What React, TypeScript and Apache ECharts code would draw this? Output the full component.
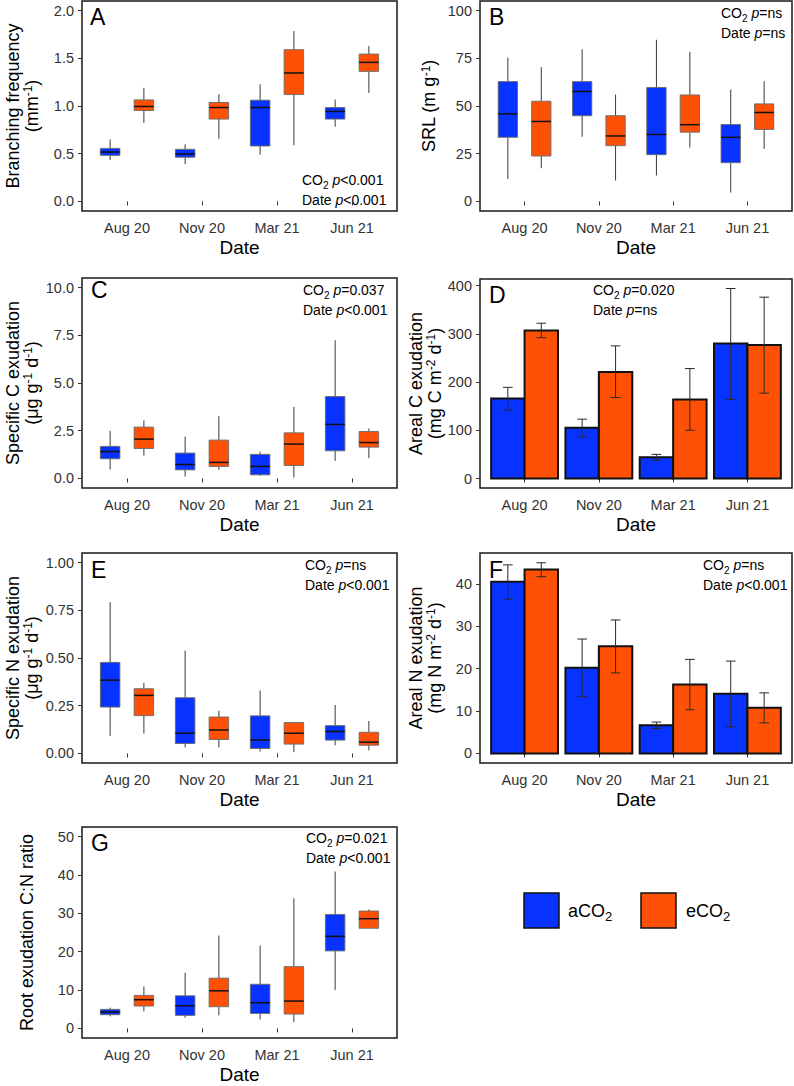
import React, { useEffect, useRef } from "react";
import * as echarts from "echarts";

// ---------- data ----------
const dates = ["Aug 20", "Nov 20", "Mar 21", "Jun 21"];

// box stats: [lower whisker, Q1, median, Q3, upper whisker]
const branchingAmbient = [
  [0.435, 0.483, 0.518, 0.556, 0.65],
  [0.39, 0.463, 0.497, 0.546, 0.598],
  [0.49, 0.581, 0.984, 1.061, 1.228],
  [0.783, 0.863, 0.943, 0.984, 1.068],
];
const branchingElevated = [
  [0.824, 0.953, 0.995, 1.064, 1.19],
  [0.657, 0.863, 0.984, 1.037, 1.123],
  [0.588, 1.12, 1.346, 1.59, 1.784],
  [1.137, 1.363, 1.457, 1.544, 1.628],
];

const srlAmbient = [
  [11.8, 33.6, 45.9, 62.8, 75.3],
  [33.9, 44.9, 57.6, 62.8, 79.7],
  [13.6, 24.5, 35.1, 59.7, 84.7],
  [4.7, 20.3, 33.6, 40.3, 58.6],
];
const srlElevated = [
  [17.4, 23.8, 41.9, 52.5, 70.4],
  [11.0, 29.2, 34.3, 44.9, 56.0],
  [28.2, 36.3, 40.2, 55.8, 78.4],
  [27.5, 37.7, 46.6, 51.1, 63.0],
];

const specCAmbient = [
  [0.47, 1.03, 1.41, 1.68, 2.5],
  [0.1, 0.45, 0.73, 1.33, 2.2],
  [0.14, 0.19, 0.63, 1.26, 1.41],
  [0.92, 1.45, 2.83, 4.29, 7.24],
];
const specCElevated = [
  [1.19, 1.57, 2.06, 2.69, 3.04],
  [0.45, 0.63, 0.84, 2.01, 3.26],
  [0.05, 0.68, 1.8, 2.39, 3.75],
  [1.06, 1.64, 1.88, 2.46, 2.62],
];

// bars: mean, lower error, upper error
const arealCAmbientMean = [166, 105, 44, 280];
const arealCAmbientLow = [142, 86, 38, 164];
const arealCAmbientHigh = [189, 123, 50, 394];
const arealCElevatedMean = [307, 221, 164, 277];
const arealCElevatedLow = [292, 168, 100, 177];
const arealCElevatedHigh = [322, 275, 228, 376];

const specNAmbient = [
  [0.092, 0.243, 0.384, 0.477, 0.793],
  [0.031, 0.052, 0.106, 0.292, 0.539],
  [0.01, 0.026, 0.071, 0.197, 0.33],
  [0.043, 0.07, 0.115, 0.146, 0.254],
];
const specNElevated = [
  [0.104, 0.198, 0.304, 0.339, 0.37],
  [0.031, 0.073, 0.123, 0.191, 0.224],
  [0.007, 0.049, 0.106, 0.162, 0.162],
  [0.016, 0.043, 0.059, 0.111, 0.17],
];

const arealNAmbientMean = [40.5, 20.2, 6.65, 14.1];
const arealNAmbientLow = [36.4, 13.4, 5.9, 6.3];
const arealNAmbientHigh = [44.5, 27.0, 7.4, 21.8];
const arealNElevatedMean = [43.4, 25.3, 16.3, 10.8];
const arealNElevatedLow = [41.7, 19.0, 10.3, 7.2];
const arealNElevatedHigh = [45.0, 31.5, 22.2, 14.3];

const cnAmbient = [
  [3.13, 3.57, 4.26, 4.96, 5.4],
  [2.8, 3.4, 5.9, 8.5, 14.5],
  [2.35, 3.9, 6.7, 11.5, 21.6],
  [10, 20.2, 24, 29.7, 40.9],
];
const cnElevated = [
  [4.43, 5.83, 7.48, 8.6, 10.96],
  [3.4, 5.65, 9.8, 13.1, 24.2],
  [1.65, 3.74, 7.13, 16.1, 33.9],
  [26.1, 26.1, 28.6, 30.6, 31.0],
];

// tick labels
const ticksA = [0, 0.5, 1, 1.5, 2];
const ticksB = [0, 25, 50, 75, 100];
const ticksC = [0, 2.5, 5, 7.5, 10];
const ticksD = [0, 100, 200, 300, 400];
const ticksE = [0, 0.25, 0.5, 0.75, 1];
const ticksF = [0, 10, 20, 30, 40];
const ticksG = [0, 10, 20, 30, 40, 50];

// ---------- style ----------
const BLUE = "#0832ff";
const ORANGE = "#ff5106";
const FONT = "'Liberation Sans', Arial, Helvetica, sans-serif";

type PanelKind = "box" | "bar";
interface Panel {
  letter: string;
  kind: PanelKind;
  left: number;
  top: number;
  width: number;
  height: number;
  yMin: number;
  yMax: number;
  ticks: number[];
  decimals: number;
  title: string;
  titleX: number;
  letterXY: [number, number];
  noteX: number;
  noteY: number;
  note: string;
  amb?: number[][];
  elev?: number[][];
  barAmb?: number[][];
  barElev?: number[][];
}

const sup = (s: string) => `{s|${s}}`;
const nrm = (s: string) => `{n|${s}}`;

const note = (co2: string, date: string) =>
  `{n|CO}{b|2}{n| }{i|p}{n|${co2}}\n{n|Date }{i|p}{n|${date}}`;

const zipBars = (m: number[], lo: number[], hi: number[]) =>
  m.map((v, i) => [v, lo[i], hi[i]]);

const panels: Panel[] = [
  {
    letter: "A", kind: "box", left: 82, top: 1, width: 315, height: 210,
    yMin: -0.1, yMax: 2.1, ticks: ticksA, decimals: 1,
    title: nrm("Branching frequency") + "\n" + nrm("(mm") + sup("-1") + nrm(")"),
    titleX: 22, letterXY: [90, 17], noteX: 302, noteY: 190,
    note: note("<0.001", "<0.001"),
    amb: branchingAmbient, elev: branchingElevated,
  },
  {
    letter: "B", kind: "box", left: 480, top: 1, width: 312, height: 210,
    yMin: -5, yMax: 105, ticks: ticksB, decimals: 0,
    title: nrm("SRL (m g") + sup("-1") + nrm(")"),
    titleX: 429, letterXY: [489, 17], noteX: 721, noteY: 23,
    note: note("=ns", "=ns"),
    amb: srlAmbient, elev: srlElevated,
  },
  {
    letter: "C", kind: "box", left: 82, top: 278, width: 315, height: 210,
    yMin: -0.5, yMax: 10.5, ticks: ticksC, decimals: 1,
    title: nrm("Specific C exudation") + "\n" + nrm("(μg g") + sup("-1") + nrm(" d") + sup("-1") + nrm(")"),
    titleX: 22, letterXY: [91, 290], noteX: 303, noteY: 300,
    note: note("=0.037", "<0.001"),
    amb: specCAmbient, elev: specCElevated,
  },
  {
    letter: "D", kind: "bar", left: 480, top: 279, width: 312, height: 209,
    yMin: -19.7, yMax: 413.7, ticks: ticksD, decimals: 0,
    title: nrm("Areal C exudation") + "\n" + nrm("(mg C m") + sup("-2") + nrm(" d") + sup("-1") + nrm(")"),
    titleX: 425, letterXY: [489, 295], noteX: 593, noteY: 300,
    note: note("=0.020", "=ns"),
    barAmb: zipBars(arealCAmbientMean, arealCAmbientLow, arealCAmbientHigh),
    barElev: zipBars(arealCElevatedMean, arealCElevatedLow, arealCElevatedHigh),
  },
  {
    letter: "E", kind: "box", left: 82, top: 553, width: 315, height: 210,
    yMin: -0.05, yMax: 1.05, ticks: ticksE, decimals: 2,
    title: nrm("Specific N exudation") + "\n" + nrm("(μg g") + sup("-1") + nrm(" d") + sup("-1") + nrm(")"),
    titleX: 22, letterXY: [91, 570], noteX: 305, noteY: 575,
    note: note("=ns", "<0.001"),
    amb: specNAmbient, elev: specNElevated,
  },
  {
    letter: "F", kind: "bar", left: 480, top: 553, width: 312, height: 210,
    yMin: -2.25, yMax: 47.3, ticks: ticksF, decimals: 0,
    title: nrm("Areal N exudation") + "\n" + nrm("(mg N m") + sup("-2") + nrm(" d") + sup("-1") + nrm(")"),
    titleX: 425, letterXY: [489, 570], noteX: 703, noteY: 575,
    note: note("=ns", "<0.001"),
    barAmb: zipBars(arealNAmbientMean, arealNAmbientLow, arealNAmbientHigh),
    barElev: zipBars(arealNElevatedMean, arealNElevatedLow, arealNElevatedHigh),
  },
  {
    letter: "G", kind: "box", left: 82, top: 827, width: 315, height: 211,
    yMin: -2.5, yMax: 52.5, ticks: ticksG, decimals: 0,
    title: nrm("Root exudation C:N ratio"),
    titleX: 27, letterXY: [91, 843], noteX: 306, noteY: 848,
    note: note("=0.021", "<0.001"),
    amb: cnAmbient, elev: cnElevated,
  },
];

const BOX_OFFSET = 0.225;
const BOX_WIDTH = 0.26;
const BAR_WIDTH = 0.45;
const CAP_WIDTH = 0.13;

function boxRenderer(offset: number, color: string) {
  return (params: any, api: any) => {
    const x = api.value(0) + offset;
    const lo = api.coord([x, api.value(1)]);
    const q1 = api.coord([x, api.value(2)]);
    const md = api.coord([x, api.value(3)]);
    const q3 = api.coord([x, api.value(4)]);
    const hi = api.coord([x, api.value(5)]);
    const w = api.size([BOX_WIDTH, 0])[0];
    const cx = md[0];
    const wl = { stroke: "#3a3a3a", lineWidth: 1 };
    return {
      type: "group",
      children: [
        { type: "line", shape: { x1: cx, y1: hi[1], x2: cx, y2: q3[1] }, style: wl },
        { type: "line", shape: { x1: cx, y1: q1[1], x2: cx, y2: lo[1] }, style: wl },
        {
          type: "rect",
          shape: { x: cx - w / 2, y: q3[1], width: w, height: Math.max(q1[1] - q3[1], 0.5) },
          style: { fill: color, stroke: "#6a6a6a", lineWidth: 0.9 },
        },
        {
          type: "line",
          shape: { x1: cx - w / 2, y1: md[1], x2: cx + w / 2, y2: md[1] },
          style: { stroke: "#111", lineWidth: 1.5 },
        },
      ],
    };
  };
}

function barRenderer(offset: number, color: string) {
  return (params: any, api: any) => {
    const x = api.value(0) + offset;
    const base = api.coord([x, 0]);
    const top = api.coord([x, api.value(1)]);
    const lo = api.coord([x, api.value(2)]);
    const hi = api.coord([x, api.value(3)]);
    const w = api.size([BAR_WIDTH, 0])[0];
    const cw = api.size([CAP_WIDTH, 0])[0];
    const cx = top[0];
    const el = { stroke: "#2a2a2a", lineWidth: 1 };
    return {
      type: "group",
      children: [
        {
          type: "rect",
          shape: { x: cx - w / 2, y: top[1], width: w, height: base[1] - top[1] },
          style: { fill: color, stroke: "#111", lineWidth: 2 },
        },
        { type: "line", shape: { x1: cx, y1: hi[1], x2: cx, y2: lo[1] }, style: el },
        { type: "line", shape: { x1: cx - cw / 2, y1: hi[1], x2: cx + cw / 2, y2: hi[1] }, style: el },
        { type: "line", shape: { x1: cx - cw / 2, y1: lo[1], x2: cx + cw / 2, y2: lo[1] }, style: el },
      ],
    };
  };
}

function buildOption() {
  const grid: any[] = [];
  const xAxis: any[] = [];
  const yAxis: any[] = [];
  const series: any[] = [];
  const graphic: any[] = [];

  panels.forEach((p, i) => {
    grid.push({
      left: p.left, top: p.top, width: p.width, height: p.height,
      show: true, borderColor: "#1a1a1a", borderWidth: 1.5, backgroundColor: "transparent",
    });
    xAxis.push({
      gridIndex: i, type: "value", min: 0.4, max: 4.6,
      name: "Date", nameLocation: "middle", nameGap: 27,
      nameTextStyle: { fontSize: 19, color: "#000", fontFamily: FONT },
      axisLine: { show: false },
      axisTick: { show: true, length: 4, lineStyle: { color: "#333", width: 1 }, customValues: [1, 2, 3, 4] },
      axisLabel: {
        customValues: [1, 2, 3, 4],
        formatter: (v: number) => dates[Math.round(v) - 1] ?? "",
        fontSize: 14.5, color: "#333", margin: 9, fontFamily: FONT,
      },
      splitLine: { show: false },
    });
    yAxis.push({
      gridIndex: i, type: "value", min: p.yMin, max: p.yMax,
      axisLine: { show: false },
      axisTick: { show: true, length: 4, lineStyle: { color: "#333", width: 1 }, customValues: p.ticks },
      axisLabel: {
        customValues: p.ticks,
        formatter: (v: number) => v.toFixed(p.decimals),
        fontSize: 14.5, color: "#333", margin: 8, fontFamily: FONT,
      },
      splitLine: { show: false },
    });

    if (p.kind === "box") {
      const ambData = (p.amb || []).map((b, k) => [k + 1, ...b]);
      const elevData = (p.elev || []).map((b, k) => [k + 1, ...b]);
      series.push({
        type: "custom", name: "aCO2", xAxisIndex: i, yAxisIndex: i,
        renderItem: boxRenderer(-BOX_OFFSET, BLUE), data: ambData,
        encode: { x: 0, y: [1, 2, 3, 4, 5] },
      });
      series.push({
        type: "custom", name: "eCO2", xAxisIndex: i, yAxisIndex: i,
        renderItem: boxRenderer(BOX_OFFSET, ORANGE), data: elevData,
        encode: { x: 0, y: [1, 2, 3] },
      });
    } else {
      const ambData = (p.barAmb || []).map((b, k) => [k + 1, ...b]);
      const elevData = (p.barElev || []).map((b, k) => [k + 1, ...b]);
      series.push({
        type: "custom", name: "aCO2", xAxisIndex: i, yAxisIndex: i,
        renderItem: barRenderer(-BAR_WIDTH / 2, BLUE), data: ambData,
        encode: { x: 0, y: [1, 2, 3] },
      });
      series.push({
        type: "custom", name: "eCO2", xAxisIndex: i, yAxisIndex: i,
        renderItem: barRenderer(BAR_WIDTH / 2, ORANGE), data: elevData,
        encode: { x: 0, y: [1, 2, 3] },
      });
    }

    // y-axis title
    graphic.push({
      type: "text", x: p.titleX, y: p.top + p.height / 2, rotation: Math.PI / 2,
      style: {
        text: p.title, align: "center", verticalAlign: "middle",
        textAlign: "center", textVerticalAlign: "middle",
        rich: {
          n: { fontSize: 18, fontFamily: FONT, fill: "#000", lineHeight: 19, verticalAlign: "middle" },
          s: { fontSize: 12, fontFamily: FONT, fill: "#000", lineHeight: 19, verticalAlign: "top" },
        },
      },
    });
    // panel letter
    graphic.push({
      type: "text", x: p.letterXY[0], y: p.letterXY[1],
      style: {
        text: p.letter, fontSize: 23, fontFamily: FONT, fill: "#000",
        align: "left", verticalAlign: "middle", textAlign: "left", textVerticalAlign: "middle",
      },
    });
    // statistics note
    graphic.push({
      type: "text", x: p.noteX, y: p.noteY,
      style: {
        text: p.note, align: "left", verticalAlign: "middle",
        textAlign: "left", textVerticalAlign: "middle",
        rich: {
          n: { fontSize: 14, fontFamily: FONT, fill: "#000", lineHeight: 20, verticalAlign: "middle" },
          i: { fontSize: 14, fontFamily: FONT, fill: "#000", lineHeight: 20, fontStyle: "italic", verticalAlign: "middle" },
          b: { fontSize: 10, fontFamily: FONT, fill: "#000", lineHeight: 20, verticalAlign: "bottom" },
        },
      },
    });
  });

  // legend
  const legendItems = [
    { x: 524, color: BLUE, label: "{n|aCO}{b|2}", tx: 568 },
    { x: 641, color: ORANGE, label: "{n|eCO}{b|2}", tx: 686 },
  ];
  legendItems.forEach((l) => {
    graphic.push({
      type: "rect", shape: { x: l.x, y: 893, width: 35, height: 35 },
      style: { fill: l.color, stroke: "#111", lineWidth: 1.5 },
    });
    graphic.push({
      type: "text", x: l.tx, y: 911,
      style: {
        text: l.label, align: "left", verticalAlign: "middle",
        textAlign: "left", textVerticalAlign: "middle",
        rich: {
          n: { fontSize: 18, fontFamily: FONT, fill: "#000", lineHeight: 24, verticalAlign: "middle" },
          b: { fontSize: 13, fontFamily: FONT, fill: "#000", lineHeight: 24, verticalAlign: "bottom" },
        },
      },
    });
  });

  return {
    animation: false,
    backgroundColor: "#fff",
    textStyle: { fontFamily: FONT },
    grid, xAxis, yAxis, series, graphic,
  };
}

export default function App() {
  const ref = useRef<HTMLDivElement>(null);
  useEffect(() => {
    if (!ref.current) return;
    const chart = echarts.init(ref.current, null, { renderer: "svg" });
    chart.setOption(buildOption() as any);
    return () => chart.dispose();
  }, []);
  return (
    <div
      ref={ref}
      style={{ position: "absolute", left: 0, top: 0, width: 794, height: 1086, background: "#fff" }}
    />
  );
}
